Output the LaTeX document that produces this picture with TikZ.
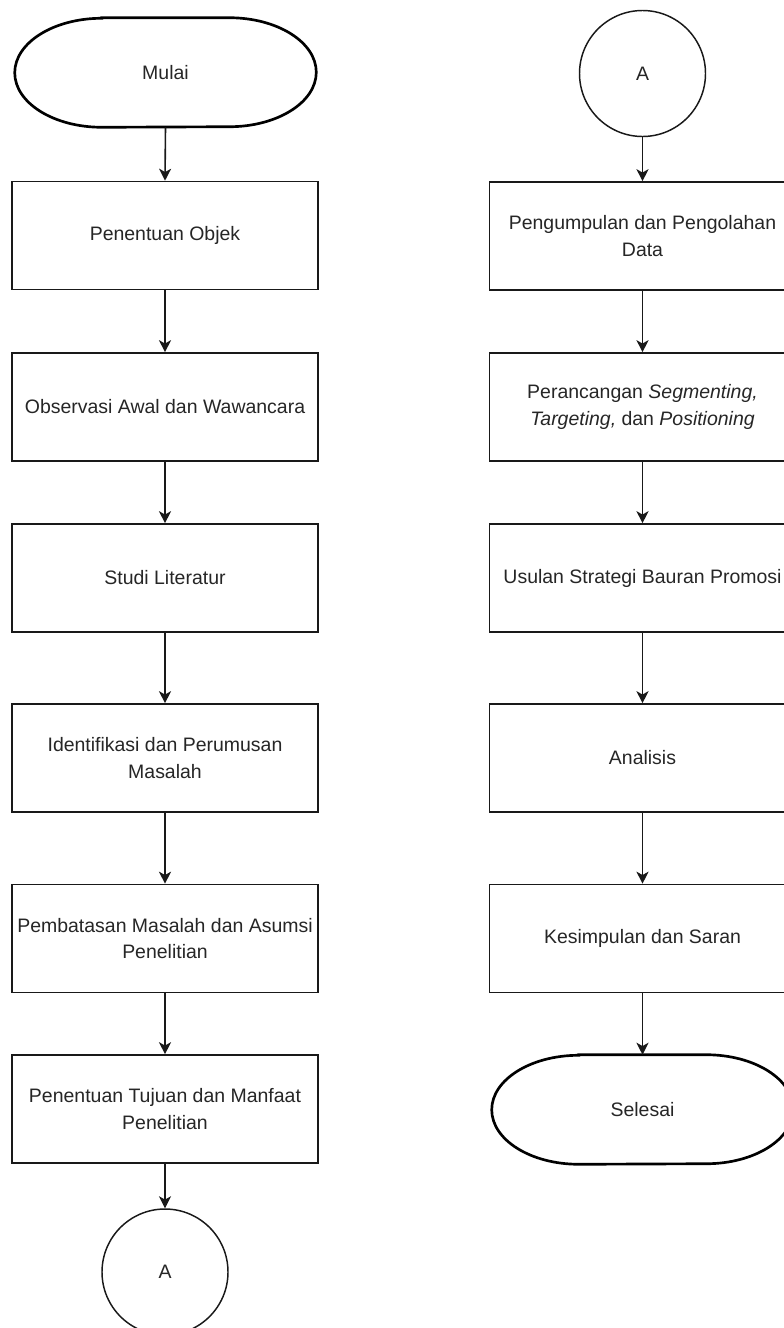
\documentclass[tikz,border=0pt]{standalone}
\usepackage{fontspec}
\setmainfont{Liberation Sans}
\usetikzlibrary{arrows.meta}
\begin{document}
\begin{tikzpicture}[x=0.75pt,y=-0.75pt,
  every node/.style={font=\fontsize{14.6pt}{19.9pt}\selectfont, text=black!85, align=center},
  procbox/.style={draw=black!90, line width=1.2pt, minimum width=229.5pt, minimum height=81pt, inner sep=0pt},
  termnode/.style={minimum width=225.75pt, minimum height=81.75pt, inner sep=0pt},
  termline/.style={draw=black, line width=2pt},
  connector/.style={draw=black!90, circle, line width=1.1pt, minimum size=94.5pt, inner sep=0pt},
  flow/.style={draw=black!90, line width=1.2pt, -{Stealth[length=9pt,width=9pt,inset=2.5pt]}}]
\clip (0,0) rectangle (784,1328);
\fill[white] (0,0) rectangle (784,1328);

% left column
\node[termnode] (start) at (165.5,72.5) {Mulai};
\draw[termline] ([xshift=65.25pt]start.north west) -- ([xshift=-65.25pt]start.north east)
  arc[start angle=90, end angle=-90, x radius=65.25pt, y radius=40.875pt]
  -- ([xshift=65.25pt]start.south west)
  arc[start angle=270, end angle=90, x radius=65.25pt, y radius=40.875pt] -- cycle;
\node[procbox] (b1) at (165,235.5) {Penentuan Objek};
\node[procbox] (b2) at (165,407) {Observasi Awal dan Wawancara};
\node[procbox] (b3) at (165,578) {Studi Literatur};
\node[procbox] (b4) at (165,758) {Identifikasi dan Perumusan\\Masalah};
\node[procbox] (b5) at (165,938.5) {Pembatasan Masalah dan Asumsi\\Penelitian};
\node[procbox] (b6) at (165,1109) {Penentuan Tujuan dan Manfaat\\Penelitian};
\node[connector] (ca) at (165,1272) {A};

\draw[flow] (start.south) -- (b1.north);
\draw[flow] (b1.south) -- (b2.north);
\draw[flow] (b2.south) -- (b3.north);
\draw[flow] (b3.south) -- (b4.north);
\draw[flow] (b4.south) -- (b5.north);
\draw[flow] (b5.south) -- (b6.north);
\draw[flow] (b6.south) -- (ca.north);

% right column
\node[connector] (cb) at (642.5,73.5) {A};
\node[procbox] (r1) at (642.5,236) {Pengumpulan dan Pengolahan\\Data};
\node[procbox] (r2) at (642.5,407) {Perancangan \textit{Segmenting,}\\\textit{Targeting,} dan \textit{Positioning}};
\node[procbox] (r3) at (642.5,578) {Usulan Strategi Bauran Promosi};
\node[procbox] (r4) at (642.5,758) {Analisis};
\node[procbox] (r5) at (642.5,938.5) {Kesimpulan dan Saran};
\node[termnode] (stop) at (642.5,1109.5) {Selesai};
\draw[termline] ([xshift=65.25pt]stop.north west) -- ([xshift=-65.25pt]stop.north east)
  arc[start angle=90, end angle=-90, x radius=65.25pt, y radius=40.875pt]
  -- ([xshift=65.25pt]stop.south west)
  arc[start angle=270, end angle=90, x radius=65.25pt, y radius=40.875pt] -- cycle;

\draw[flow] (cb.south) -- (r1.north);
\draw[flow] (r1.south) -- (r2.north);
\draw[flow] (r2.south) -- (r3.north);
\draw[flow] (r3.south) -- (r4.north);
\draw[flow] (r4.south) -- (r5.north);
\draw[flow] (r5.south) -- (stop.north);
\end{tikzpicture}
\end{document}
